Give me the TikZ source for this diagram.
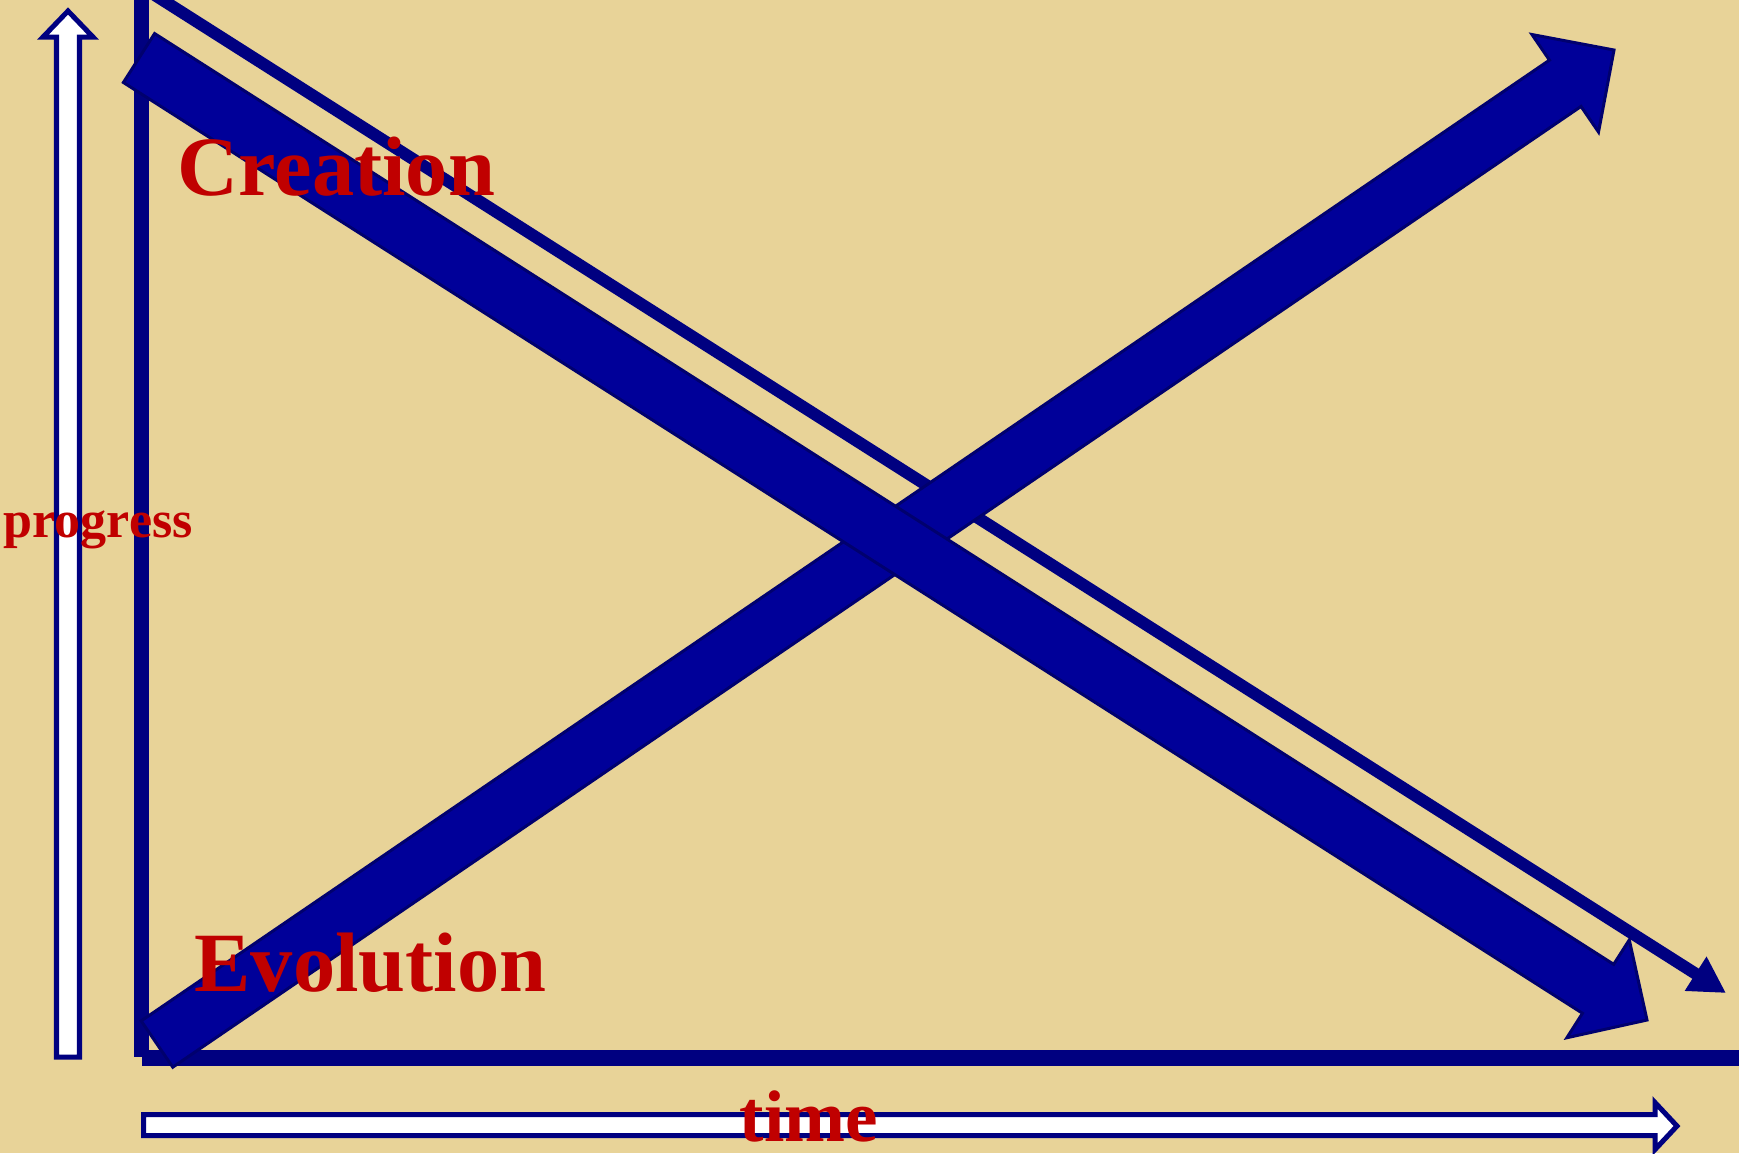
\documentclass[tikz,border=0pt]{standalone}
\usepackage{fontspec}
\setmainfont{Liberation Serif}
\usetikzlibrary{arrows.meta,calc}
\definecolor{paper}{RGB}{232,211,152}
\definecolor{axisnavy}{RGB}{0,0,128}
\definecolor{bandblue}{RGB}{0,0,153}
\definecolor{bandedge}{RGB}{0,0,110}
\definecolor{labelred}{RGB}{192,0,0}

\begin{document}
\begin{tikzpicture}[
  x=0.01cm, y=-0.01cm,
  >=Latex,
  axisline/.style={draw=axisnavy, line width=0.15cm},
  hollow/.style={draw=axisnavy, fill=white, line width=0.05cm, line join=miter},
  band/.style={draw=bandedge, fill=bandblue, line width=0.03cm, line join=miter},
  thinarrow/.style={draw=axisnavy, line width=0.12cm,
    -{Triangle[length=0.36cm, width=0.38cm, fill=axisnavy]}},
  biglabel/.style={text=labelred, font=\fontsize{24}{28}\selectfont\bfseries,
    anchor=base west, inner sep=0pt},
  smalllabel/.style={text=labelred, font=\fontsize{14.8}{18}\selectfont\bfseries,
    anchor=base west, inner sep=0pt}
]
  \useasboundingbox (0,0) rectangle (1739,1153);
  \clip (0,0) rectangle (1739,1153);
  \fill[paper] (0,0) rectangle (1739,1153);

  % Achsen.
  \draw[axisline] (141.5,-5) -- (141.5,1057);
  \draw[axisline, line width=0.16cm] (142,1058) -- (1745,1058);

  % Hohle Pfeile (progress, time).
  \draw[hollow] (56.5,1057) -- (56.5,37) -- (43,37) -- (68,11) -- (93,37)
    -- (79.5,37) -- (79.5,1057) -- cycle;
  \draw[hollow] (143.5,1114.5) -- (1655,1114.5) -- (1655,1102.5) -- (1677,1126)
    -- (1655,1149.5) -- (1655,1135.5) -- (143.5,1135.5) -- cycle;

  % Dünner Pfeil.
  \coordinate (thintop) at (150,-8);
  \coordinate (thintip) at (1726,993);
  \draw[thinarrow] (thintop) -- (thintip);

  % Aufsteigender Blockpfeil.
  \coordinate (uptail) at (157,1044);
  \coordinate (uptip) at (1614,50);
  \coordinate (upbase) at ($(uptip)!0.59cm!(uptail)$);
  \draw[band] ($(uptail)!0.28cm!90:(uptip)$) -- ($(upbase)!0.28cm!-90:(uptail)$)
    -- ($(upbase)!0.59cm!-90:(uptail)$) -- (uptip)
    -- ($(upbase)!0.59cm!90:(uptail)$) -- ($(upbase)!0.28cm!90:(uptail)$)
    -- ($(uptail)!0.28cm!-90:(uptip)$) -- cycle;

  % Absteigender Blockpfeil.
  \coordinate (dntail) at (139,58);
  \coordinate (dntip) at (1647,1020);
  \coordinate (dnbase) at ($(dntip)!0.58cm!(dntail)$);
  \draw[band] ($(dntail)!0.29cm!90:(dntip)$) -- ($(dnbase)!0.29cm!-90:(dntail)$)
    -- ($(dnbase)!0.58cm!-90:(dntail)$) -- (dntip)
    -- ($(dnbase)!0.58cm!90:(dntail)$) -- ($(dnbase)!0.29cm!90:(dntail)$)
    -- ($(dntail)!0.29cm!-90:(dntip)$) -- cycle;

  % Beschriftungen.
  \node[biglabel] (creation) at (177,195) {Creation};
  \node[biglabel] (evolution) at (194,991) {Evolution};
  \node[smalllabel] (progress) at (3,537) {progress};
  \node[biglabel, font=\fontsize{20.8}{24}\selectfont\bfseries] (time) at (739,1141) {time};
\end{tikzpicture}
\end{document}
